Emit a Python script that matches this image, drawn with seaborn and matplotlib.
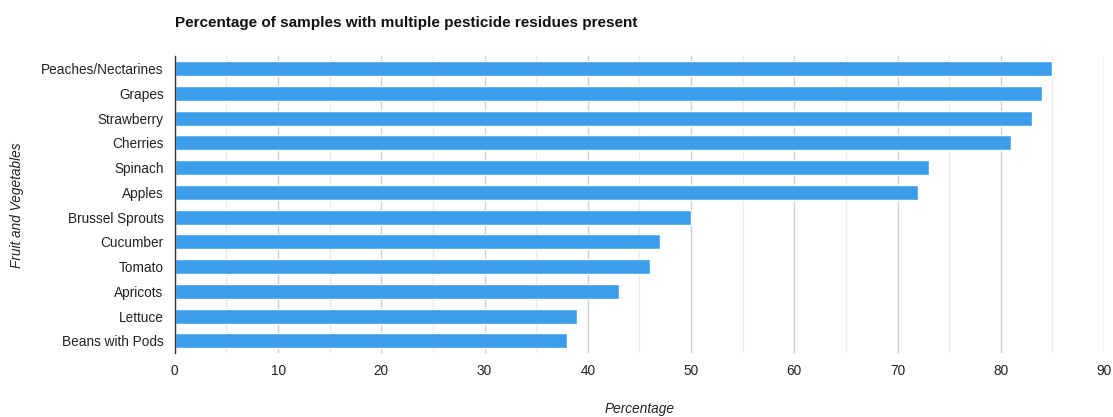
import matplotlib
matplotlib.use("Agg")
import matplotlib.pyplot as plt
import seaborn as sns
import pandas as pd
from matplotlib.ticker import MultipleLocator

# data
items = ["Peaches/Nectarines", "Grapes", "Strawberry", "Cherries", "Spinach",
         "Apples", "Brussel Sprouts", "Cucumber", "Tomato", "Apricots",
         "Lettuce", "Beans with Pods"]
percentages = [85, 84, 83, 81, 73, 72, 50, 47, 46, 43, 39, 38]

df = pd.DataFrame({"item": items, "pct": percentages})

sns.set_theme(style="white")
plt.rcParams["font.family"] = ["Liberation Sans", "DejaVu Sans"]

fig = plt.figure(figsize=(11.13, 4.17), dpi=100)
ax = fig.add_axes([0.157, 0.153, 0.835, 0.712])

sns.barplot(data=df, x="pct", y="item", orient="h", color="#3c9dea",
            saturation=1, width=0.6, ax=ax, zorder=3)

ax.set_xlim(0, 90)
ax.xaxis.set_major_locator(MultipleLocator(10))
ax.xaxis.set_minor_locator(MultipleLocator(5))
ax.grid(axis="x", which="major", color="#cfcfcf", linewidth=1, zorder=0)
ax.grid(axis="x", which="minor", color="#ebebeb", linewidth=1, zorder=0)
ax.set_axisbelow(True)

for side in ["top", "right", "bottom"]:
    ax.spines[side].set_visible(False)
ax.spines["left"].set_color("#333333")
ax.spines["left"].set_linewidth(1)
ax.spines["left"].set_zorder(5)

ax.tick_params(axis="both", length=0, labelsize=9.8, colors="#222222")
ax.tick_params(axis="x", pad=8)
ax.tick_params(axis="y", pad=8)

ax.set_title("Percentage of samples with multiple pesticide residues present",
             loc="left", fontsize=11, fontweight="bold", color="#111111", pad=21)
ax.set_xlabel("Percentage", fontsize=9.8, style="italic", color="#222222", labelpad=17)
ax.set_ylabel("Fruit and Vegetables", fontsize=9.8, style="italic", color="#222222")
ax.yaxis.set_label_coords(-0.162, 0.5)

fig.savefig("out.png", dpi=100)
